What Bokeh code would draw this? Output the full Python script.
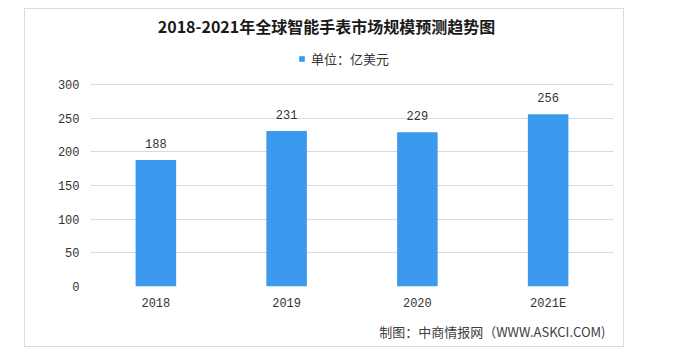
from bokeh.plotting import figure
from bokeh.models import Range1d, FixedTicker, Label, Legend, LegendItem, ColumnDataSource, Title
from bokeh.core.properties import value
from bokeh.embed import file_html
from bokeh.resources import INLINE

years = ["2018", "2019", "2020", "2021E"]
sizes = [188, 231, 229, 256]
y_ticks = [0, 50, 100, 150, 200, 250, 300]
title_text = "2018-2021年全球智能手表市场规模预测趋势图"
unit_text = "单位：亿美元"
source_text = "制图：中商情报网（WWW.ASKCI.COM)"

xs = list(range(len(years)))
src = ColumnDataSource(dict(x=xs, top=sizes, lab=[str(v) for v in sizes]))

BAR = "#3c9aee"
CJK = "Noto Sans CJK SC"
NUM = "Liberation Mono"

# frame spans from canvas top to the x axis; the space above 300 holds title and legend
Y_TOP = 411.4

p = figure(width=598, height=337, output_backend="svg", toolbar_location=None,
           x_range=Range1d(-0.5, 3.5), y_range=Range1d(0, Y_TOP),
           min_border_left=65, min_border_right=10, min_border_top=0, min_border_bottom=60,
           margin=(9, 0, 0, 25), styles={"outline": "1px solid #dcdcdc"})
p.outline_line_color = None
p.background_fill_color = "white"
p.border_fill_color = "white"

bars = p.vbar(x="x", top="top", width=0.31, bottom=0, source=src,
              fill_color=BAR, line_color=None)

p.text(x="x", y="top", text="lab", source=src, text_align="center",
       text_baseline="bottom", y_offset=-12, text_font=value(NUM),
       text_font_size="12px", text_color="#333333")

p.xaxis.ticker = FixedTicker(ticks=xs)
p.xaxis.major_label_overrides = {i: y for i, y in zip(xs, years)}
p.yaxis.ticker = FixedTicker(ticks=y_ticks)
for ax in (p.xaxis, p.yaxis):
    ax.axis_line_color = None
    ax.major_tick_line_color = None
    ax.minor_tick_line_color = None
    ax.major_tick_out = 0
    ax.major_tick_in = 0
    ax.minor_tick_out = 0
    ax.major_label_text_font = NUM
    ax.major_label_text_font_size = "12px"
    ax.major_label_text_color = "#333333"
p.xaxis.major_label_standoff = 10
p.yaxis.major_label_standoff = 11

p.xgrid.grid_line_color = None
p.ygrid.grid_line_color = "#d9d9d9"
p.ygrid.grid_line_width = 1

legend = Legend(items=[LegendItem(label=unit_text, renderers=[bars])],
                location=(208, 218), orientation="horizontal",
                padding=0, margin=0, glyph_width=7, glyph_height=7,
                label_standoff=6, border_line_color=None, background_fill_alpha=0,
                label_text_font=CJK, label_text_font_size="13px",
                label_text_color="#333333")
p.add_layout(legend, "center")

p.add_layout(Label(x=1.305, y=387, text=title_text, text_align="center",
                   text_baseline="middle", text_font=CJK, text_font_size="16px",
                   text_font_style="bold", text_color="#1a1a1a"))

p.add_layout(Title(text=source_text, align="right", offset=8, standoff=12,
                   text_font=CJK, text_font_size="13px", text_font_style="normal",
                   text_color="#404040"), "below")

open("out.html", "w").write(file_html(p, INLINE))
